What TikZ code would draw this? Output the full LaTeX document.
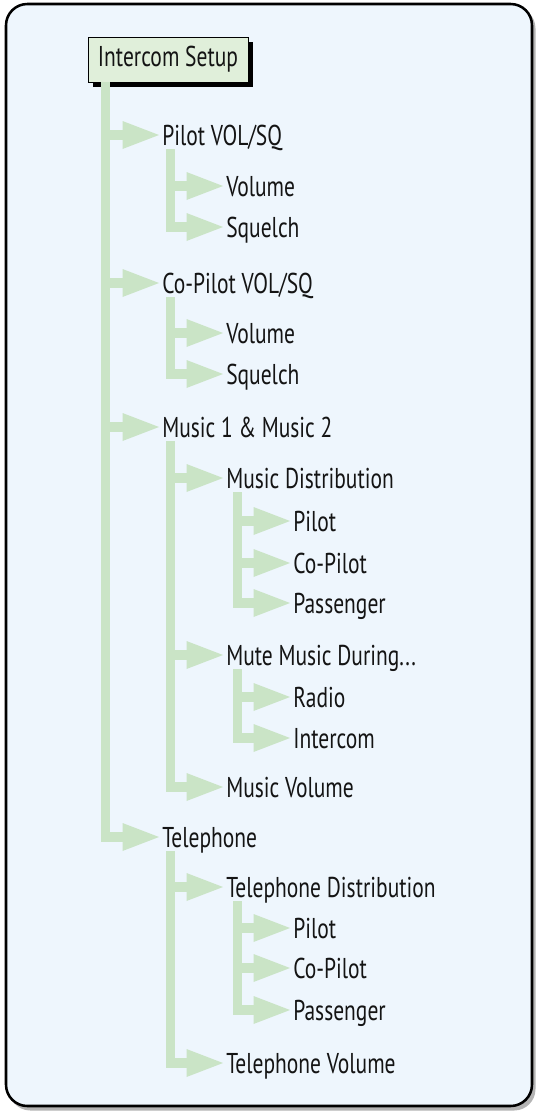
\documentclass[tikz,border=0pt]{standalone}
\usepackage{fontspec}
\setmainfont{PT Sans}[FakeStretch=0.75]
\usetikzlibrary{calc,shadows}
\definecolor{bg}{HTML}{EEF6FD}
\definecolor{br}{HTML}{CAE4C6}
\definecolor{boxfill}{HTML}{E0EFDA}
\definecolor{txt}{HTML}{141414}
\definecolor{frshadow}{HTML}{B4B4B4}
% #1 bar offset from parent west (px), #2 parent, #3 child
\newcommand\twig[3]{%
  \fill[br] ($(#2.west |- #3.west)+(#1-4.5,-5)$) rectangle ($(#3.west)+(-39,5)$);
  \fill[br] ($(#3.west)+(-39.5,-14)$) -- ($(#3.west)+(-3,0)$) -- ($(#3.west)+(-39.5,14)$) -- cycle;}
% #1 bar offset, #2 parent, #3 last child
\newcommand\trunk[3]{%
  \fill[br] ($(#2.west)+(#1-4.5,14)$) rectangle ($(#2.west |- #3.west)+(#1+4.5,5)$);}
\begin{document}
\begin{tikzpicture}[x=0.75pt,y=-0.75pt,
  lbl/.style={anchor=west,inner sep=0pt,text height=15pt,text depth=0pt,
    font=\fontsize{21.5}{24}\selectfont,text=txt}]
\useasboundingbox (0,0) rectangle (536,1111);
\fill[frshadow,rounded corners=16pt] (9,7) rectangle (535.5,1110.5);
\draw[line width=1.9pt,fill=bg,rounded corners=16pt] (6,4) rectangle (532,1106);

% nodes
\node[lbl] (p1) at (162,135) {Pilot VOL/SQ};
\node[lbl] (p1a) at (226,186) {Volume};
\node[lbl] (p1b) at (226,227) {Squelch};
\node[lbl] (p2) at (162,283) {Co-Pilot VOL/SQ};
\node[lbl] (p2a) at (226,333) {Volume};
\node[lbl] (p2b) at (226,374) {Squelch};
\node[lbl] (p3) at (162,427) {Music 1 \& Music 2};
\node[lbl] (md) at (226,478) {Music Distribution};
\node[lbl] (mdp) at (293,521) {Pilot};
\node[lbl] (mdc) at (293,563) {Co-Pilot};
\node[lbl] (mdg) at (293,603) {Passenger};
\node[lbl] (mm) at (226,655) {Mute Music During...};
\node[lbl] (mmr) at (293,697) {Radio};
\node[lbl] (mmi) at (293,738) {Intercom};
\node[lbl] (mv) at (226,787) {Music Volume};
\node[lbl] (p4) at (162,837) {Telephone};
\node[lbl] (td) at (226,887) {Telephone Distribution};
\node[lbl] (tdp) at (293,928) {Pilot};
\node[lbl] (tdc) at (293,968) {Co-Pilot};
\node[lbl] (tdg) at (293,1010) {Passenger};
\node[lbl] (tv) at (226,1063) {Telephone Volume};

% root box
\node[draw,line width=0.6pt,fill=boxfill,minimum width=120pt,minimum height=33.75pt,
  inner sep=0pt,font=\fontsize{21.5}{24}\selectfont,text=txt,
  drop shadow={shadow xshift=3.75pt,shadow yshift=-3.5pt,opacity=1,fill=black}]
  (root) at (168,59.5) {Intercom Setup};

% trunks
\fill[br] ($(root.south west)+(18-4.5,0)$) rectangle ($(root.west |- p4.west)+(18+4.5,5)$);
\trunk{8}{p1}{p1b}
\trunk{8}{p2}{p2b}
\trunk{8}{p3}{mv}
\trunk{11}{md}{mdg}
\trunk{11}{mm}{mmi}
\trunk{8}{p4}{tv}
\trunk{11}{td}{tdg}

% twigs
\twig{18}{root}{p1}\twig{18}{root}{p2}\twig{18}{root}{p3}\twig{18}{root}{p4}
\twig{8}{p1}{p1a}\twig{8}{p1}{p1b}
\twig{8}{p2}{p2a}\twig{8}{p2}{p2b}
\twig{8}{p3}{md}\twig{8}{p3}{mm}\twig{8}{p3}{mv}
\twig{11}{md}{mdp}\twig{11}{md}{mdc}\twig{11}{md}{mdg}
\twig{11}{mm}{mmr}\twig{11}{mm}{mmi}
\twig{8}{p4}{td}\twig{8}{p4}{tv}
\twig{11}{td}{tdp}\twig{11}{td}{tdc}\twig{11}{td}{tdg}
\end{tikzpicture}
\end{document}
